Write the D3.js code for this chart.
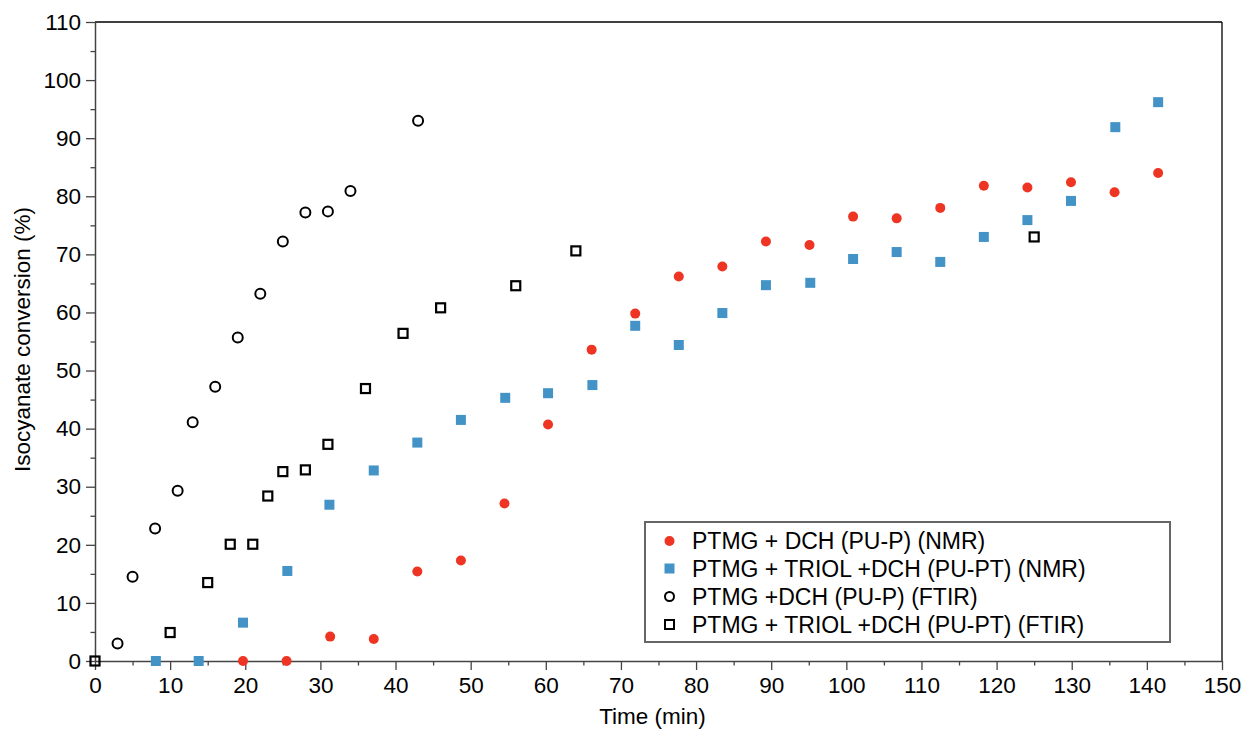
<!DOCTYPE html>
<head>
<style>
  body { margin: 0; background: #fff; }
  svg { font-family: "Liberation Sans", Arial, sans-serif; }
</style>
</head>
<body>
<div id="chart_container"></div>

<script src="https://cdn.jsdelivr.net/npm/d3@7"></script>

<script>

// series: time (min) and isocyanate conversion (%)
const puP_nmr_time = [19.7, 25.5, 31.3, 37.1, 42.9, 48.7, 54.5, 60.3, 66.1, 71.9, 77.7, 83.5, 89.3, 95.1, 100.9, 106.7, 112.5, 118.3, 124.1, 129.9, 135.7, 141.5]
const puP_nmr_conv = [0, 0, 4.2, 3.8, 15.4, 17.3, 27.1, 40.7, 53.6, 59.8, 66.2, 67.9, 72.2, 71.6, 76.5, 76.2, 78.0, 81.8, 81.5, 82.4, 80.7, 84.0]

const puPT_nmr_time = [8.1, 13.8, 19.7, 25.6, 31.2, 37.1, 42.9, 48.7, 54.6, 60.3, 66.2, 71.9, 77.7, 83.5, 89.3, 95.2, 100.9, 106.7, 112.5, 118.3, 124.1, 129.9, 135.8, 141.5]
const puPT_nmr_conv = [0, 0, 6.6, 15.5, 26.9, 32.8, 37.6, 41.5, 45.3, 46.1, 47.5, 57.7, 54.4, 59.9, 64.7, 65.1, 69.2, 70.4, 68.7, 73.0, 75.9, 79.2, 91.9, 96.2]

const puP_ftir_time = [3, 5, 8, 11, 13, 16, 19, 22, 25, 28, 31, 34, 43]
const puP_ftir_conv = [3.0, 14.5, 22.8, 29.3, 41.1, 47.2, 55.7, 63.2, 72.2, 77.2, 77.4, 80.9, 93.0]

const puPT_ftir_time = [0, 10, 15, 18, 21, 23, 25, 28, 31, 36, 41, 46, 56, 64, 125]
const puPT_ftir_conv = [0, 4.9, 13.5, 20.1, 20.1, 28.4, 32.6, 32.9, 37.3, 46.9, 56.4, 60.8, 64.6, 70.6, 73.0]

const legendLabels = [
  'PTMG + DCH (PU-P) (NMR)',
  'PTMG + TRIOL +DCH (PU-PT) (NMR)',
  'PTMG +DCH (PU-P) (FTIR)',
  'PTMG + TRIOL +DCH (PU-PT) (FTIR)'
]

const xTicks = d3.range(0, 151, 10)
const yTicks = d3.range(0, 111, 10)

const red = '#ee3524'
const blue = '#4393c7'

const W = 1246
const H = 729
const margin = {left: 95, top: 22, right: 24, bottom: 68}
const width = W - margin.left - margin.right
const height = H - margin.top - margin.bottom

const svg = d3.select('#chart_container')
              .append('svg')
              .attr('width', W)
              .attr('height', H)

const g = svg.append('g')
             .attr('transform', `translate(${margin.left}, ${margin.top})`)

const xScale = d3.scaleLinear().domain([0, 150]).range([0, width])
const yScale = d3.scaleLinear().domain([0, 110]).range([height, 0])

// frame top/right
g.append('line').attr('x1', 0).attr('x2', width).attr('y1', 0).attr('y2', 0)
 .attr('stroke', '#000').attr('stroke-width', 1.3)
g.append('line').attr('x1', width).attr('x2', width).attr('y1', 0).attr('y2', height)
 .attr('stroke', '#000').attr('stroke-width', 1.3)

// minor ticks
g.append('g')
 .attr('transform', `translate(0, ${height})`)
 .call(d3.axisBottom(xScale).tickValues(d3.range(5, 150, 10)).tickSize(4.5).tickFormat('').tickSizeOuter(0))
 .call(a => a.select('.domain').remove())
g.append('g')
 .call(d3.axisLeft(yScale).tickValues(d3.range(5, 110, 10)).tickSize(4.5).tickFormat('').tickSizeOuter(0))
 .call(a => a.select('.domain').remove())

g.append('g')
 .attr('transform', `translate(0, ${height})`)
 .call(d3.axisBottom(xScale).tickValues(xTicks).tickSize(9).tickPadding(7).tickSizeOuter(0))

g.append('g')
 .call(d3.axisLeft(yScale).tickValues(yTicks).tickSize(9).tickPadding(5).tickSizeOuter(0))

g.selectAll('.tick line').attr('stroke', '#444').attr('stroke-width', 1.3)
g.selectAll('.domain').attr('stroke', '#444').attr('stroke-width', 1.5)
g.selectAll('.tick text').attr('font-size', 22.5).attr('fill', '#000')
 .style('font-family', '"Liberation Sans", Arial, sans-serif')

// axis titles
svg.append('text')
   .attr('x', margin.left + xScale(75) - 6)
   .attr('y', 724)
   .attr('text-anchor', 'middle')
   .attr('font-size', 22.5)
   .attr('fill', '#000')
   .text('Time (min)')

svg.append('text')
   .attr('transform', `translate(30, ${margin.top + yScale(55) - 2}) rotate(-90)`)
   .attr('text-anchor', 'middle')
   .attr('font-size', 22.5)
   .attr('fill', '#000')
   .text('Isocyanate conversion (%)')

// markers
const circleSym = (sel, xs, ys, fill, stroke) => {
  sel.selectAll(null)
     .data(xs)
     .enter()
     .append('circle')
     .attr('cx', (d) => xScale(d))
     .attr('cy', (d, i) => yScale(ys[i]))
     .attr('r', 5)
     .attr('fill', fill)
     .attr('stroke', stroke)
     .attr('stroke-width', fill === 'none' ? 2 : 0)
}

const squareSym = (sel, xs, ys, fill, stroke) => {
  const s = fill === 'none' ? 9 : 10
  sel.selectAll(null)
     .data(xs)
     .enter()
     .append('rect')
     .attr('x', (d) => xScale(d) - s / 2)
     .attr('y', (d, i) => yScale(ys[i]) - s / 2)
     .attr('width', s)
     .attr('height', s)
     .attr('fill', fill)
     .attr('stroke', stroke)
     .attr('stroke-width', fill === 'none' ? 2.2 : 0)
}

const marks = g.append('g')
circleSym(marks.append('g'), puP_ftir_time, puP_ftir_conv, 'none', '#000')
squareSym(marks.append('g'), puPT_ftir_time, puPT_ftir_conv, 'none', '#000')
squareSym(marks.append('g'), puPT_nmr_time, puPT_nmr_conv, blue, 'none')
circleSym(marks.append('g'), puP_nmr_time, puP_nmr_conv, red, 'none')

// legend
const legend = svg.append('g')
legend.append('rect')
      .attr('x', 645).attr('y', 522)
      .attr('width', 525).attr('height', 120)
      .attr('fill', '#fff')
      .attr('stroke', '#666')
      .attr('stroke-width', 2)

const rowY = [541, 568.5, 596.5, 624.5]
legendLabels.forEach((lab, i) => {
  const row = legend.append('g')
  if (i === 0) {
    row.append('circle').attr('cx', 669.5).attr('cy', rowY[i]).attr('r', 5).attr('fill', red)
  } else if (i === 1) {
    row.append('rect').attr('x', 664.5).attr('y', rowY[i] - 5).attr('width', 10).attr('height', 10).attr('fill', blue)
  } else if (i === 2) {
    row.append('circle').attr('cx', 669.5).attr('cy', rowY[i]).attr('r', 4.5)
       .attr('fill', 'none').attr('stroke', '#000').attr('stroke-width', 2)
  } else {
    row.append('rect').attr('x', 665).attr('y', rowY[i] - 4.5).attr('width', 9).attr('height', 9)
       .attr('fill', 'none').attr('stroke', '#000').attr('stroke-width', 2)
  }
  row.append('text')
     .attr('x', 692)
     .attr('y', rowY[i])
     .attr('dy', '0.36em')
     .attr('font-size', 23)
     .attr('fill', '#000')
     .text(lab)
})

</script>
</body>
